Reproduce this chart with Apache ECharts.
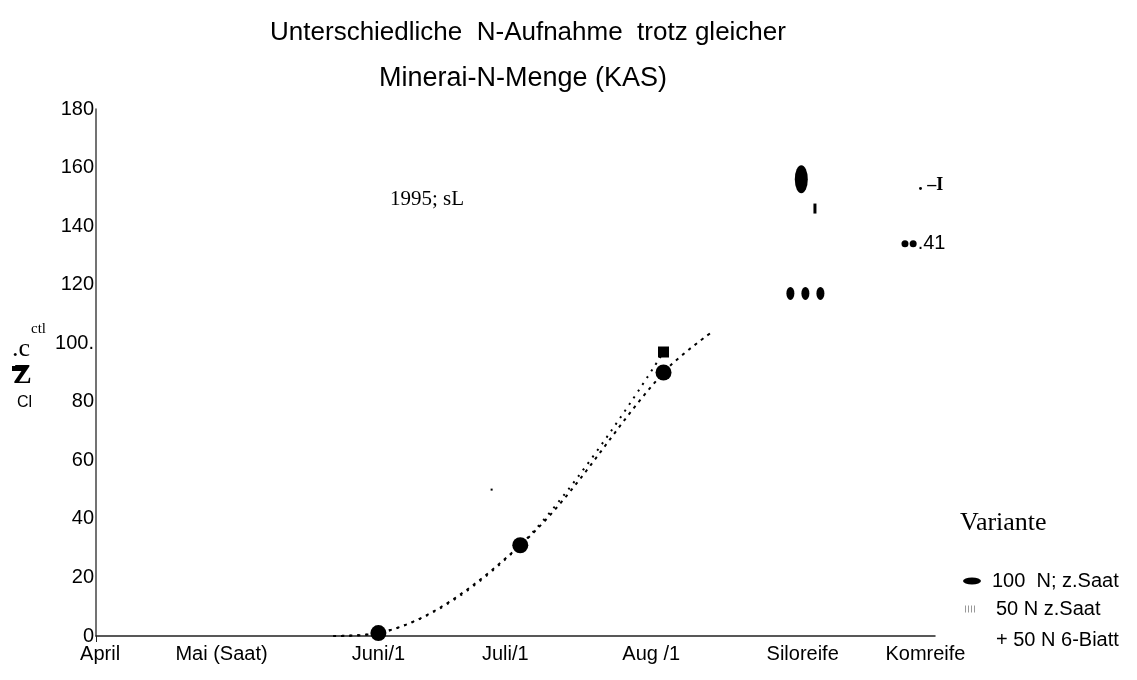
<!DOCTYPE html>
<html>
<head>
<meta charset="utf-8">
<script src="https://cdn.jsdelivr.net/npm/echarts@6/dist/echarts.min.js"></script>
<style>
  html, body { margin: 0; padding: 0; background: #fff; }
  #chart { width: 1137px; height: 680px; }
</style>
</head>
<body>
<div id="chart"></div>
<script>
// Stages of the growing season shown along the x axis
const xTickLabels = ['April', 'Mai (Saat)', 'Juni/1', 'Juli/1', 'Aug /1', 'Siloreife', 'Komreife'];
const xTickAt = [0.03, 0.92, 2.07, 3.0, 4.07, 5.18, 6.08];

// N uptake, variant 100 N applied at sowing
const seriesAName = '100  N; z.Saat';
const seriesAX = [1.74, 2.07, 3.11, 4.16, 4.52];
const seriesAY = [0, 1, 31, 90, 104];
const seriesAMarked = [false, true, true, true, false];

// N uptake, variant 50 N at sowing + 50 N at 6-leaf stage
const seriesBName = '50 N z.Saat';
const seriesBNote = '+ 50 N 6-Biatt';
const seriesBX = [1.74, 2.07, 3.11, 4.16];
const seriesBY = [0, 1, 31, 97];
const seriesBMarked = [false, false, false, true];

// Harvest-stage readings (silage / grain maturity)
const harvestX = [5.17, 5.27, 5.09, 5.2, 5.31, 5.93, 5.99];
const harvestY = [156, 146, 117, 117, 117, 134, 134];
const harvestNote = '.41';
const harvestTopX = 5.98;
const harvestTopY = 154;
const harvestTopNote = '. \u2013I';

// isolated reading in mid-season
const strayX = [2.9];
const strayY = [50];

const ellipse = 'path://M0,5 A5,5 0 1,1 10,5 A5,5 0 1,1 0,5 Z';
const bars = 'path://M0,0h1v8h-1z M3,0h1v8h-1z M6,0h1v8h-1z M9,0h1v8h-1z';

const chart = echarts.init(document.getElementById('chart'));

function lineData(xs, ys, marked, sym, size) {
  return xs.map((x, i) => ({
    value: [x, ys[i]],
    symbol: marked[i] ? sym : 'none',
    symbolSize: size
  }));
}

const harvestSymbols = [ellipse, 'rect', ellipse, ellipse, ellipse, 'circle', 'circle'];
const harvestSizes = [[13, 28], [3, 10], [8, 13], [8, 13], [8, 13], [7, 7], [7, 7]];

const sans = 'Liberation Sans';
const serif = 'Liberation Serif';

const option = {
  backgroundColor: '#fff',
  animation: false,
  title: [
    {
      text: 'Unterschiedliche  N-Aufnahme  trotz gleicher',
      left: 523, top: 15, textAlign: 'center',
      textStyle: { fontFamily: sans, fontSize: 26, fontWeight: 'normal', color: '#000' }
    },
    {
      text: 'Minerai-N-Menge (KAS)',
      left: 518, top: 60, textAlign: 'center',
      textStyle: { fontFamily: sans, fontSize: 27, fontWeight: 'normal', color: '#000' }
    },
    {
      text: '1995; sL',
      left: 385, top: 184,
      textStyle: { fontFamily: serif, fontSize: 21, fontWeight: 'normal', color: '#000' }
    },
    {
      text: 'Variante',
      left: 955, top: 505,
      textStyle: { fontFamily: serif, fontSize: 26, fontWeight: 'normal', color: '#000' }
    },
    {
      text: seriesBNote,
      left: 991, top: 625,
      textStyle: { fontFamily: sans, fontSize: 20, fontWeight: 'normal', color: '#000' }
    }
  ],
  graphic: [
    { type: 'text', left: 12, top: 336, style: { text: '.c', font: '26px "Liberation Serif"', fill: '#000' } },
    { type: 'text', left: 31, top: 322, style: { text: 'ctl', font: '15px "Liberation Serif"', fill: '#000' } },
    { type: 'rect', shape: { x: 12, y: 366, width: 13, height: 5 }, style: { fill: '#000' } },
    { type: 'text', left: 13, top: 362, style: { text: 'Z', font: 'bold 28px "Liberation Serif"', fill: '#000' } },
    { type: 'text', left: 17, top: 395, style: { text: 'Cl', font: '16px "Liberation Sans"', fill: '#000' } }
  ],
  legend: [
    {
      left: 958, top: 566,
      itemWidth: 18, itemHeight: 7,
      symbolKeepAspect: false,
      textStyle: { fontFamily: sans, fontSize: 20, color: '#000', padding: [0, 0, 0, 6] },
      data: [{ name: seriesAName, icon: ellipse, itemStyle: { color: '#000' } }]
    },
    {
      left: 960, top: 594,
      itemWidth: 10, itemHeight: 7,
      symbolKeepAspect: false,
      textStyle: { fontFamily: sans, fontSize: 20, color: '#000', padding: [0, 0, 0, 16] },
      data: [{ name: seriesBName, icon: bars, itemStyle: { color: '#999' } }]
    }
  ],
  grid: { left: 96, right: 202, top: 109, bottom: 44, containLabel: false },
  xAxis: {
    type: 'value',
    min: 0, max: 6.15,
    splitLine: { show: false },
    axisLine: { show: true, lineStyle: { color: '#222', width: 1.5 } },
    axisTick: { show: true, customValues: [0], length: 6, lineStyle: { color: '#222' } },
    axisLabel: {
      customValues: xTickAt,
      margin: 8,
      fontFamily: sans, fontSize: 20, color: '#000',
      formatter: v => {
        const i = xTickAt.findIndex(t => Math.abs(t - v) < 1e-6);
        return i >= 0 ? xTickLabels[i] : '';
      }
    }
  },
  yAxis: {
    type: 'value',
    min: 0, max: 180, interval: 20,
    splitLine: { show: false },
    axisLine: { show: true, lineStyle: { color: '#444', width: 1.5 } },
    axisTick: { show: false },
    axisLabel: {
      margin: 2,
      fontFamily: sans, fontSize: 20, color: '#000',
      formatter: v => (v === 100 ? '100.' : String(v))
    }
  },
  series: [
    {
      name: seriesAName,
      type: 'line',
      smooth: 0.35,
      data: lineData(seriesAX, seriesAY, seriesAMarked, 'circle', 16),
      itemStyle: { color: '#000' },
      lineStyle: { color: '#000', width: 2, type: [3, 5] },
      z: 3
    },
    {
      name: seriesBName,
      type: 'line',
      smooth: 0.35,
      data: lineData(seriesBX, seriesBY, seriesBMarked, 'rect', 11),
      itemStyle: { color: '#000' },
      lineStyle: { color: '#000', width: 2, type: [2, 6] },
      z: 3
    },
    {
      name: 'harvest',
      type: 'scatter',
      data: harvestX.map((x, i) => ({
        value: [x, harvestY[i]],
        symbol: harvestSymbols[i],
        symbolSize: harvestSizes[i],
        label: i === harvestX.length - 1
          ? { show: true, position: 'right', distance: 1, formatter: harvestNote,
              fontFamily: sans, fontSize: 20, color: '#000' }
          : { show: false }
      })).concat([{
        value: [harvestTopX, harvestTopY],
        symbol: 'circle',
        symbolSize: 1,
        itemStyle: { color: 'rgba(0,0,0,0)' },
        label: { show: true, position: 'right', distance: 6, formatter: harvestTopNote,
                 fontFamily: serif, fontWeight: 'bold', fontSize: 18, color: '#000' }
      }]),
      itemStyle: { color: '#000', opacity: 1 }
    },
    {
      name: 'stray',
      type: 'scatter',
      symbol: 'rect',
      symbolSize: 2,
      data: strayX.map((x, i) => [x, strayY[i]]),
      itemStyle: { color: '#000', opacity: 1 }
    }
  ]
};

chart.setOption(option);
</script>
</body>
</html>
